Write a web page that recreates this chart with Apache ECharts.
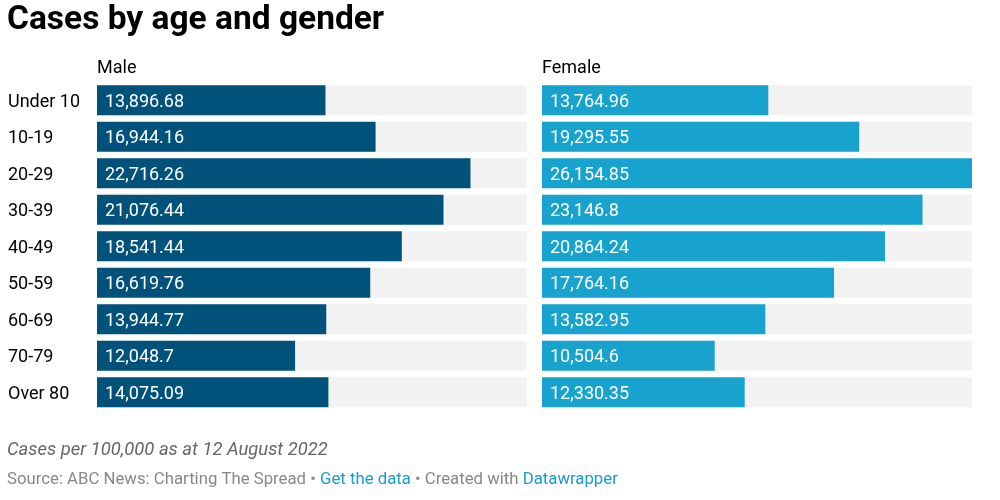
<!DOCTYPE html>
<html>
<head>
<meta charset="utf-8">
<script src="https://cdn.jsdelivr.net/npm/echarts@6/dist/echarts.min.js"></script>
<style>html,body{margin:0;padding:0;background:#fff}#c{width:1000px;height:500px}</style>
</head>
<body>
<div id="c"></div>
<script>
const categories = ["Under 10","10-19","20-29","30-39","40-49","50-59","60-69","70-79","Over 80"];
const male = [13896.68,16944.16,22716.26,21076.44,18541.44,16619.76,13944.77,12048.7,14075.09];
const female = [13764.96,19295.55,26154.85,23146.8,20864.24,17764.16,13582.95,10504.6,12330.35];
const seriesNames = ["Male","Female"];

const scaleMax = Math.max(...male, ...female);
const FONT = "Roboto";
const fmt = v => v.toLocaleString("en-US", {maximumFractionDigits: 2});

const chart = echarts.init(document.getElementById("c"), null, {renderer: "canvas"});
const gridTop = 82, gridH = 328.5;
const mkSeries = (name, data, idx, color) => ({
  name, type: "bar", xAxisIndex: idx, yAxisIndex: idx, data,
  barCategoryGap: "18%",
  showBackground: true,
  backgroundStyle: {color: "#f2f2f2"},
  itemStyle: {color},
  label: {show: true, position: "insideLeft", distance: 8, color: "#fff", offset: [0, 2],
    fontFamily: FONT, fontSize: 18, formatter: p => fmt(p.value)},
  silent: true, animation: false
});
chart.setOption({
  animation: false,
  textStyle: {fontFamily: FONT},
  title: [
    {text: "Cases by age and gender", left: 7, top: 4, padding: 0,
      textStyle: {fontFamily: FONT, fontSize: 33.5, fontWeight: "bold", color: "#000"}},
    {text: seriesNames[0], left: 97, top: 59, padding: 0, textStyle: {fontFamily: FONT, fontSize: 18, fontWeight: "normal", color: "#000"}},
    {text: seriesNames[1], left: 542, top: 59, padding: 0, textStyle: {fontFamily: FONT, fontSize: 18, fontWeight: "normal", color: "#000"}},
    {text: "Cases per 100,000 as at 12 August 2022", left: 7, top: 441, padding: 0,
      textStyle: {fontFamily: FONT, fontSize: 18.4, fontStyle: "italic", fontWeight: "normal", color: "#666"}},
    {text: "{a|Source: ABC News: Charting The Spread • }{b|Get the data}{a| • Created with }{b|Datawrapper}", left: 7, top: 471, padding: 0,
      textStyle: {rich: {a: {fontFamily: FONT, fontSize: 16.75, fontWeight: "normal", color: "#888"}, b: {fontFamily: FONT, fontSize: 16.75, fontWeight: "normal", color: "#1a9bd0"}}}}
  ],
  grid: [
    {left: 97, width: 430, top: gridTop, height: gridH},
    {left: 542, width: 430, top: gridTop, height: gridH}
  ],
  xAxis: [0,1].map(i => ({type: "value", gridIndex: i, min: 0, max: scaleMax, show: false})),
  yAxis: [0,1].map(i => ({type: "category", gridIndex: i, data: categories, inverse: true,
    axisLine: {show: false}, axisTick: {show: false},
    axisLabel: {show: i === 0, color: "#000", align: "left", margin: 89,
      formatter: v => "{a|" + v + "}",
      rich: {a: {fontFamily: FONT, fontSize: 18, color: "#000", padding: [4, 0, 0, 0]}}},
    splitLine: {show: false}})),
  series: [
    mkSeries(seriesNames[0], male, 0, "#00527b"),
    mkSeries(seriesNames[1], female, 1, "#18a3cf")
  ]
});
</script>
</body>
</html>
